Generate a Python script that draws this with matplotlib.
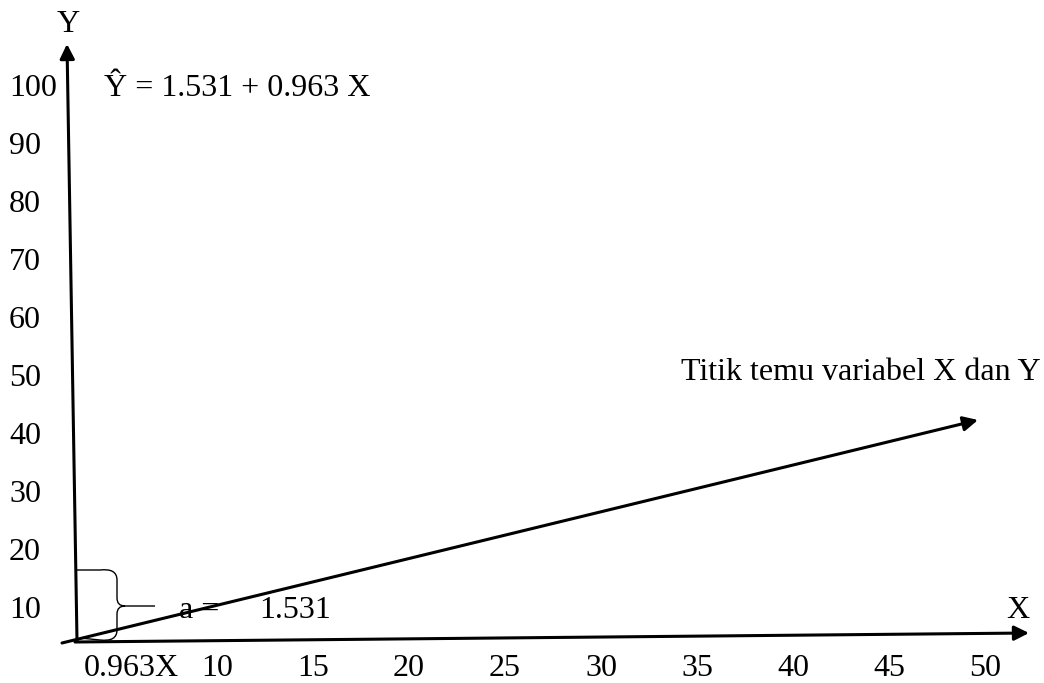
import matplotlib
matplotlib.use("Agg")
import matplotlib.pyplot as plt
from matplotlib.path import Path
from matplotlib.patches import PathPatch

# labels and values
y_values = [100, 90, 80, 70, 60, 50, 40, 30, 20, 10]
x_values = [5, 10, 15, 20, 25, 30, 35, 40, 45, 50]
x_labels = ["0.963X", "10", "15", "20", "25", "30", "35", "40", "45", "50"]
equation = "\u0176 = 1.531 + 0.963 X"
intercept = "1.531"
note = "Titik temu variabel X dan Y"

plt.rcParams['font.family'] = ['Liberation Serif', 'DejaVu Serif']
FS = 23

fig = plt.figure(figsize=(10.44, 6.83), dpi=100)
ax = fig.add_axes([0, 0, 1, 1])
ax.set_xlim(0, 1044)
ax.set_ylim(683, 0)
ax.axis("off")


# tick label scales (pixel positions of the printed numbers)
def ypx(v):
    return 611 - (v - 10) * 5.811


def xpx(v):
    return 217 + (v - 10) * 19.2


for v in y_values:
    ax.text(9, ypx(v), str(v), fontsize=FS, ha="left", va="center")

for v, lab in zip(x_values, x_labels):
    x = xpx(v)
    if lab == "0.963X":
        x = 131
    ax.text(x, 669, lab, fontsize=FS, ha="center", va="center")

arrow = dict(arrowstyle="-|>", color="black", lw=2.2, mutation_scale=22,
             shrinkA=0, shrinkB=0)

# Y axis
ax.annotate("", xy=(67, 44), xytext=(77, 641), arrowprops=arrow)
# X axis
ax.annotate("", xy=(1029, 633), xytext=(75, 642), arrowprops=arrow)
# regression line
ax.annotate("", xy=(978, 420), xytext=(62, 643), arrowprops=arrow)

ax.text(68, 24, "Y", fontsize=FS, ha="center", va="center")
ax.text(1018, 611, "X", fontsize=FS, ha="center", va="center")
ax.text(104, 88, equation, fontsize=FS, ha="left", va="center")
ax.text(1041, 373, note, fontsize=FS, ha="right", va="center")
ax.text(179, 611, "a =", fontsize=FS, ha="left", va="center")
ax.text(259, 611, intercept, fontsize=FS, ha="left", va="center")

# curly brace for the intercept
verts = [(77, 570), (100, 570), (117, 568), (117, 580),
         (117, 598), (117, 606), (125, 606),
         (155, 606), (125, 606),
         (117, 606), (117, 614),
         (117, 630), (117, 642), (100, 640), (80, 638)]
codes = [Path.MOVETO, Path.LINETO, Path.CURVE3, Path.CURVE3,
         Path.LINETO, Path.CURVE3, Path.CURVE3,
         Path.LINETO, Path.MOVETO,
         Path.CURVE3, Path.CURVE3,
         Path.LINETO, Path.CURVE3, Path.CURVE3, Path.LINETO]
ax.add_patch(PathPatch(Path(verts, codes), fill=False, lw=1.0, color="black"))

fig.savefig("out.png", dpi=100)
